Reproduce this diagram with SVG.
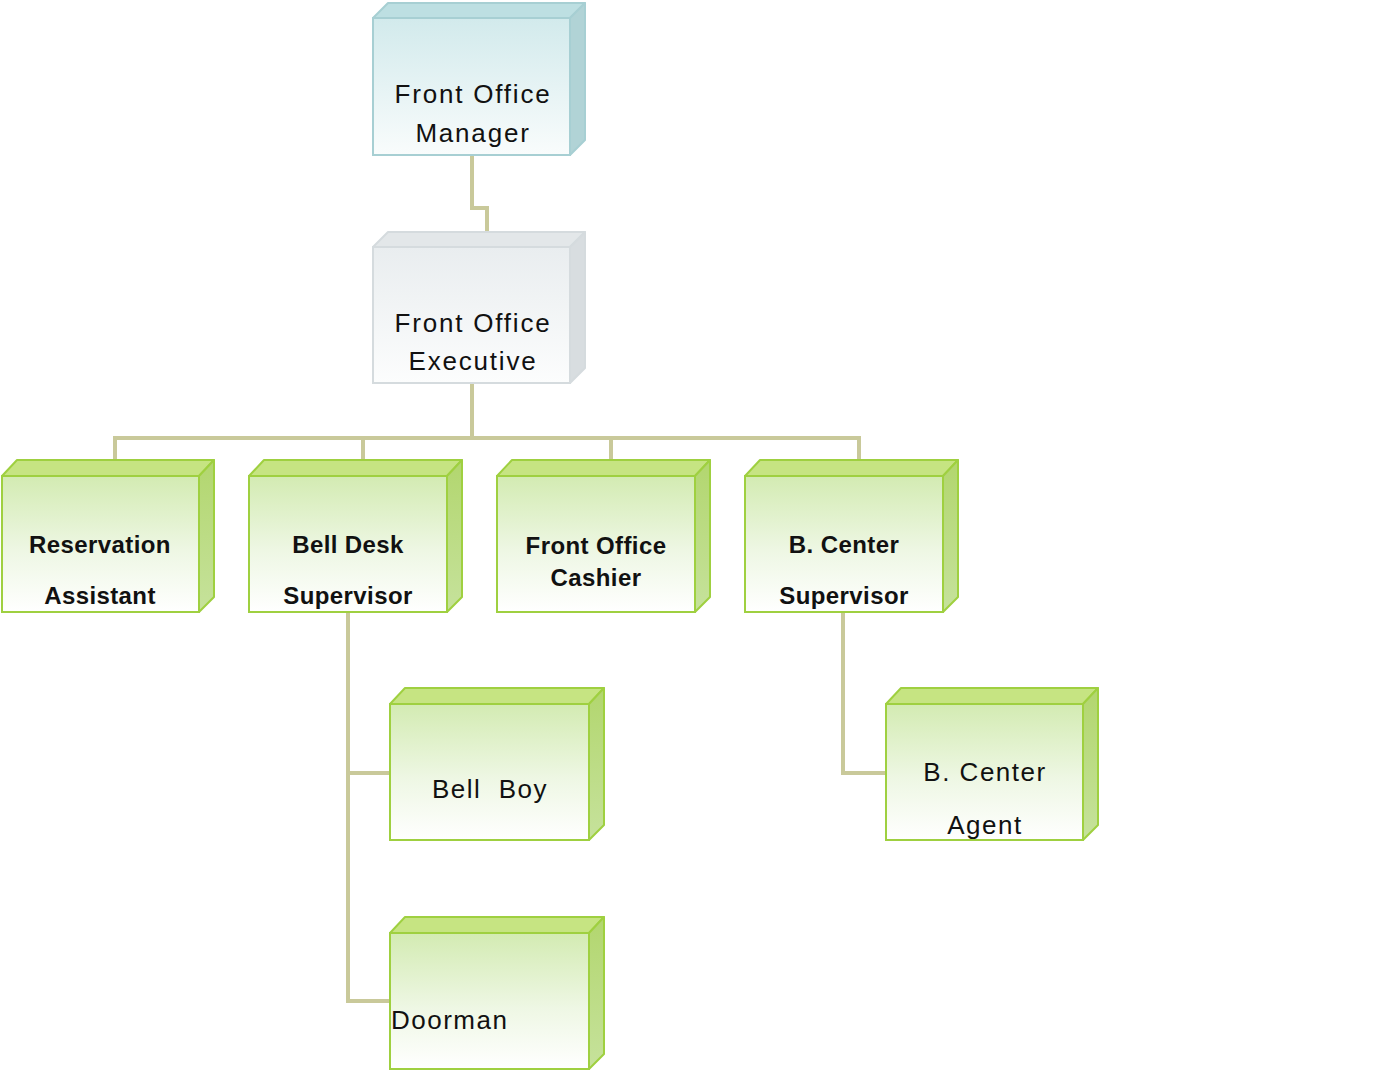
<svg xmlns="http://www.w3.org/2000/svg" width="1388" height="1080" viewBox="0 0 1388 1080">
<defs>
<linearGradient id="gGreen" x1="0" y1="0" x2="0" y2="1">
<stop offset="0" stop-color="#d3ebb2"/><stop offset="0.55" stop-color="#eef7e4"/><stop offset="1" stop-color="#ffffff"/>
</linearGradient>
<linearGradient id="gGreenSide" x1="0" y1="0" x2="0" y2="1">
<stop offset="0" stop-color="#b2d66e"/><stop offset="1" stop-color="#c6e29c"/>
</linearGradient>
<linearGradient id="gCyan" x1="0" y1="0" x2="0" y2="1">
<stop offset="0" stop-color="#d2eaec"/><stop offset="1" stop-color="#f9fcfc"/>
</linearGradient>
<linearGradient id="gGray" x1="0" y1="0" x2="0" y2="1">
<stop offset="0" stop-color="#e9edef"/><stop offset="1" stop-color="#fcfdfd"/>
</linearGradient>
<style>
.g .front{fill:url(#gGreen);stroke:#9fd040;stroke-width:2}
.g .top{fill:#c6e482;stroke:#9fd040;stroke-width:2;stroke-linejoin:round}
.g .side{fill:url(#gGreenSide);stroke:#9fd040;stroke-width:2;stroke-linejoin:round}
.c .front{fill:url(#gCyan);stroke:#a7cfd3;stroke-width:2}
.c .top{fill:#bddfe2;stroke:#a7cfd3;stroke-width:2;stroke-linejoin:round}
.c .side{fill:#b1d3d6;stroke:#a7cfd3;stroke-width:2;stroke-linejoin:round}
.y .front{fill:url(#gGray);stroke:#d5dbde;stroke-width:2}
.y .top{fill:#e3e7e9;stroke:#d5dbde;stroke-width:2;stroke-linejoin:round}
.y .side{fill:#d8dde0;stroke:#d5dbde;stroke-width:2;stroke-linejoin:round}
text{font-family:"Liberation Sans",Arial,sans-serif;fill:#111;text-anchor:middle}
.t1{font-size:26px;letter-spacing:1.8px}
.t2{font-size:24px;font-weight:bold;letter-spacing:0.4px}
.t3{font-size:26px;letter-spacing:1.5px}
#edges path{fill:none;stroke:#c9c99a;stroke-width:4}
</style>
</defs>
<rect width="1388" height="1080" fill="#ffffff"/>
<g id="edges">
<path d="M472,155 V208 H487 V232"/>
<path d="M472,383 V438"/>
<path d="M115,460 V438 H859 V460"/>
<path d="M363,438 V460"/>
<path d="M611,438 V460"/>
<path d="M348,612 V1001 H390"/>
<path d="M348,773 H390"/>
<path d="M843,612 V773 H886"/>
</g>
<g id="n-fom" class="c">
<polygon class="top" points="373,18 388,3 585,3 570,18"/>
<polygon class="side" points="570,18 585,3 585,140 570,155"/>
<rect class="front" x="373" y="18" width="197" height="137"/>
<text class="t1" x="473" y="103">Front Office</text>
<text class="t1" x="473" y="142">Manager</text>
</g>
<g id="n-foe" class="y">
<polygon class="top" points="373,247 388,232 585,232 570,247"/>
<polygon class="side" points="570,247 585,232 585,368 570,383"/>
<rect class="front" x="373" y="247" width="197" height="136"/>
<text class="t1" x="473" y="332">Front Office</text>
<text class="t1" x="473" y="370">Executive</text>
</g>
<g id="n-res" class="g">
<polygon class="top" points="2,476 17,460 214,460 199,476"/>
<polygon class="side" points="199,476 214,460 214,597 199,612"/>
<rect class="front" x="2" y="476" width="197" height="136"/>
<text class="t2" x="100" y="553">Reservation</text>
<text class="t2" x="100" y="604">Assistant</text>
</g>
<g id="n-bell" class="g">
<polygon class="top" points="249,476 264,460 462,460 447,476"/>
<polygon class="side" points="447,476 462,460 462,597 447,612"/>
<rect class="front" x="249" y="476" width="198" height="136"/>
<text class="t2" x="348" y="553">Bell Desk</text>
<text class="t2" x="348" y="604">Supervisor</text>
</g>
<g id="n-cash" class="g">
<polygon class="top" points="497,476 512,460 710,460 695,476"/>
<polygon class="side" points="695,476 710,460 710,597 695,612"/>
<rect class="front" x="497" y="476" width="198" height="136"/>
<text class="t2" x="596" y="554">Front Office</text>
<text class="t2" x="596" y="586">Cashier</text>
</g>
<g id="n-bcs" class="g">
<polygon class="top" points="745,476 760,460 958,460 943,476"/>
<polygon class="side" points="943,476 958,460 958,597 943,612"/>
<rect class="front" x="745" y="476" width="198" height="136"/>
<text class="t2" x="844" y="553">B. Center</text>
<text class="t2" x="844" y="604">Supervisor</text>
</g>
<g id="n-boy" class="g">
<polygon class="top" points="390,704 405,688 604,688 589,704"/>
<polygon class="side" points="589,704 604,688 604,825 589,840"/>
<rect class="front" x="390" y="704" width="199" height="136"/>
<text class="t3" x="490" y="798" xml:space="preserve">Bell  Boy</text>
</g>
<g id="n-door" class="g">
<polygon class="top" points="390,933 405,917 604,917 589,933"/>
<polygon class="side" points="589,933 604,917 604,1054 589,1069"/>
<rect class="front" x="390" y="933" width="199" height="136"/>
<text class="t3" x="391" y="1029" style="text-anchor:start">Doorman</text>
</g>
<g id="n-bca" class="g">
<polygon class="top" points="886,704 901,688 1098,688 1083,704"/>
<polygon class="side" points="1083,704 1098,688 1098,825 1083,840"/>
<rect class="front" x="886" y="704" width="197" height="136"/>
<text class="t3" x="985" y="781">B. Center</text>
<text class="t3" x="985" y="834">Agent</text>
</g>
</svg>
